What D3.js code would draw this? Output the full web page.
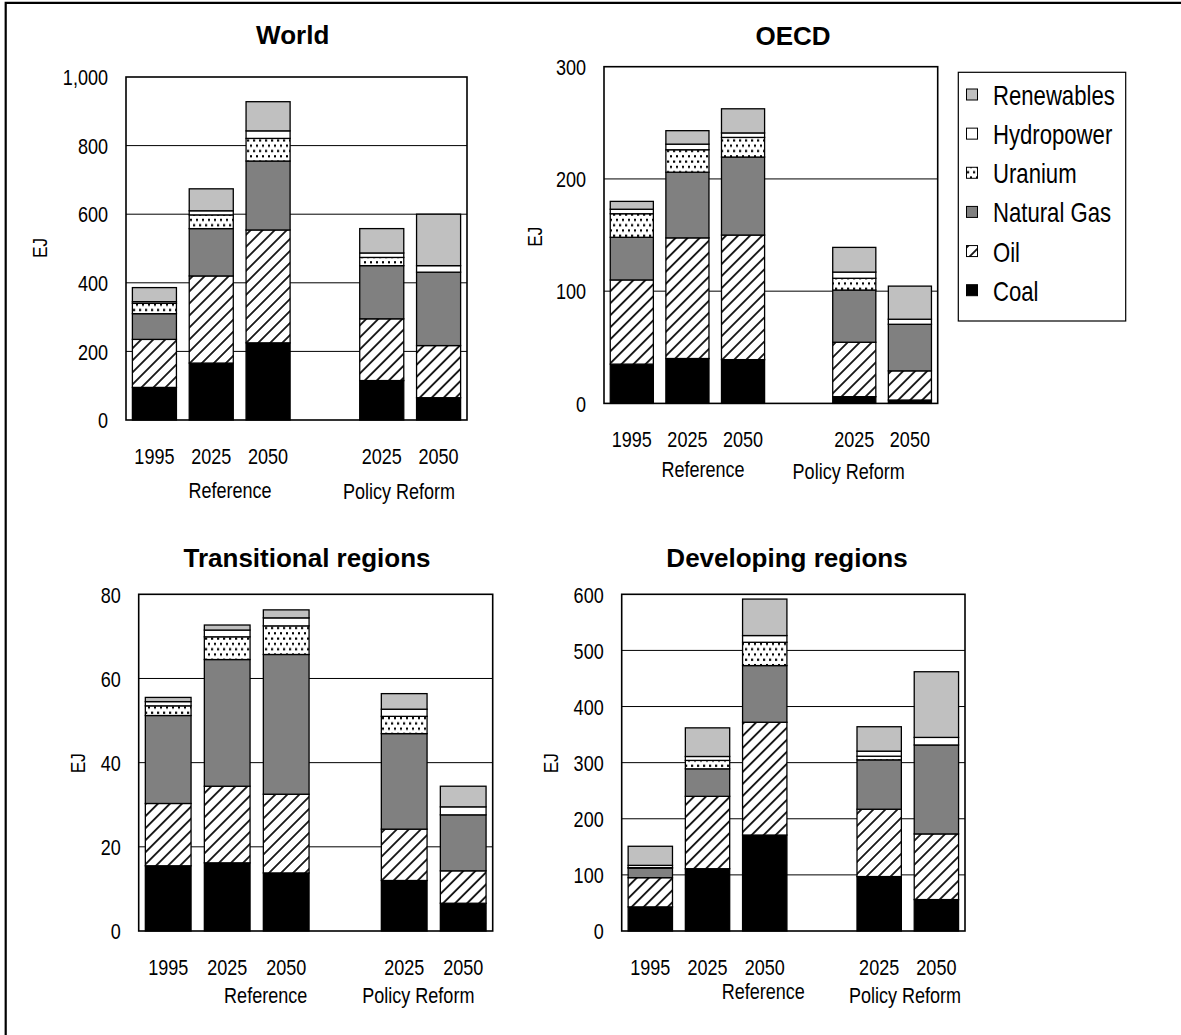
<!DOCTYPE html>
<html>
<head>
<meta charset="utf-8">
<script src="https://cdn.jsdelivr.net/npm/d3@7"></script>
<style>
  html, body { margin: 0; padding: 0; background: #fff; overflow: hidden; }
  svg { display: block; }
</style>
</head>
<body>
<script>
// ---------- DATA ----------
const fuels = ["Coal", "Oil", "Natural Gas", "Uranium", "Hydropower", "Renewables"];
const years = ["1995", "2025", "2050", "2025", "2050"];
const scenarios = ["Reference", "Reference", "Reference", "Policy Reform", "Policy Reform"];
const groupLabels = ["Reference", "Policy Reform"];

// rows follow `fuels` order; columns follow `years`
const worldValues = [
  [95, 166, 225, 115, 65],
  [140, 254, 329, 180, 152],
  [75, 138, 201, 155, 214],
  [30, 40, 66, 24, 0],
  [5, 12, 22, 13, 19],
  [41, 64, 85, 71, 150]
];
const oecdValues = [
  [35, 40, 39, 6, 3],
  [75, 107.5, 111, 48.5, 26],
  [38, 58.5, 69.5, 46.5, 41.5],
  [21, 20, 17.5, 10.5, 0],
  [4, 5, 4, 5.5, 4.5],
  [7, 12, 21.5, 22, 29.5]
];
const transValues = [
  [15.5, 16.2, 13.8, 12, 6.6],
  [14.8, 18.2, 18.7, 12.2, 7.7],
  [20.9, 30.1, 33.2, 22.7, 13.3],
  [2.3, 5.4, 6.8, 4.1, 0],
  [1.0, 1.6, 1.9, 1.7, 1.9],
  [1.0, 1.2, 1.9, 3.7, 4.9]
];
const devValues = [
  [43, 111, 171, 97, 56],
  [52, 129, 201, 120, 117],
  [17, 49, 101, 88, 158.5],
  [1, 15, 41.5, 6.5, 0],
  [4, 7, 12, 9, 13.5],
  [34, 51, 65, 43.5, 117]
];
const worldTicks = [0, 200, 400, 600, 800, 1000];
const oecdTicks = [0, 100, 200, 300];
const transTicks = [0, 20, 40, 60, 80];
const devTicks = [0, 100, 200, 300, 400, 500, 600];

// ---------- LAYOUT ----------
const W = 1181, H = 1035;
const NARROW = 0.82;
const svg = d3.select("body").append("svg").attr("width", W).attr("height", H);

const defs = svg.append("defs");
const hatch = defs.append("pattern").attr("id", "hatch")
  .attr("patternUnits", "userSpaceOnUse").attr("width", 8.5).attr("height", 8.5)
  .attr("patternTransform", "rotate(45)");
hatch.append("rect").attr("width", 8.5).attr("height", 8.5).attr("fill", "#fff");
hatch.append("line").attr("x1", 0).attr("y1", -1).attr("x2", 0).attr("y2", 9.5)
  .attr("stroke", "#000").attr("stroke-width", 1.7);
hatch.append("line").attr("x1", 8.5).attr("y1", -1).attr("x2", 8.5).attr("y2", 9.5)
  .attr("stroke", "#000").attr("stroke-width", 1.7);

const dots = defs.append("pattern").attr("id", "dots")
  .attr("patternUnits", "userSpaceOnUse").attr("width", 6).attr("height", 10.6);
dots.append("rect").attr("width", 6).attr("height", 10.6).attr("fill", "#fff");
dots.append("rect").attr("x", 1).attr("y", 1.5).attr("width", 2.2).attr("height", 2.2).attr("fill", "#000");
dots.append("rect").attr("x", 4).attr("y", 6.8).attr("width", 2.2).attr("height", 2.2).attr("fill", "#000");

const fills = {
  "Coal": "#000000",
  "Oil": "url(#hatch)",
  "Natural Gas": "#808080",
  "Uranium": "url(#dots)",
  "Hydropower": "#ffffff",
  "Renewables": "#c0c0c0"
};

// outer border (only top + left are visible in the reference)
svg.append("path").attr("d", `M5.7,${H} V2.8 H${W}`)
  .attr("fill", "none").attr("stroke", "#000").attr("stroke-width", 2.2);

function ntext(g, x, y, str, anchor, size, rotate) {
  return g.append("text")
    .attr("transform", `translate(${x},${y})` + (rotate ? ` rotate(${rotate})` : "") + ` scale(${NARROW},1)`)
    .attr("text-anchor", anchor)
    .attr("font-family", "'Liberation Sans', Arial, sans-serif")
    .attr("font-size", size)
    .attr("fill", "#000")
    .text(str);
}

const panels = [
  { title: "World", values: worldValues, ticks: worldTicks, fmt: d3.format(","),
    box: { x: 126, y: 77, w: 341, h: 343 }, titlePos: [292.7, 44.3], ej: [46.5, 248],
    groupPos: [[104, 77.5], [273, 78.5]] },
  { title: "OECD", values: oecdValues, ticks: oecdTicks, fmt: d3.format(","),
    box: { x: 604, y: 66.7, w: 333.7, h: 336.7 }, titlePos: [793, 45], ej: [541.5, 236.7],
    groupPos: [[99, 74], [244.7, 75.7]] },
  { title: "Transitional regions", values: transValues, ticks: transTicks, fmt: d3.format(","),
    box: { x: 138.7, y: 594.3, w: 354, h: 336.7 }, titlePos: [307, 567.3], ej: [85, 763.3],
    groupPos: [[127, 71.5], [279.6, 72]] },
  { title: "Developing regions", values: devValues, ticks: devTicks, fmt: d3.format(","),
    box: { x: 621.7, y: 594.3, w: 343.3, h: 336.7 }, titlePos: [787, 567.3], ej: [558.3, 763.3],
    groupPos: [[141.6, 68], [283.3, 72]] }
];

const slotKeys = ["c0", "c1", "c2", "gap", "c3", "c4"];
const colKey = i => "c" + i;

panels.forEach(p => {
  const g = svg.append("g");
  const b = p.box;
  const x = d3.scaleBand().domain(slotKeys).range([b.x, b.x + b.w])
    .paddingInner(0.225).paddingOuter(0.1125);
  const y = d3.scaleLinear().domain([0, d3.max(p.ticks)]).range([b.y + b.h, b.y]);

  // gridlines
  g.append("g").selectAll("line").data(p.ticks.slice(1, -1)).join("line")
    .attr("x1", b.x).attr("x2", b.x + b.w)
    .attr("y1", d => y(d)).attr("y2", d => y(d))
    .attr("stroke", "#000").attr("stroke-width", 1);

  // stacked bars
  const rows = years.map((yr, i) => {
    const r = { key: colKey(i) };
    fuels.forEach((f, k) => { r[f] = p.values[k][i]; });
    return r;
  });
  const series = d3.stack().keys(fuels)(rows);
  g.append("g").selectAll("g").data(series).join("g")
    .attr("fill", s => fills[s.key])
    .selectAll("rect").data(s => s.filter(d => d[1] - d[0] > 0)).join("rect")
    .attr("x", d => x(d.data.key))
    .attr("width", x.bandwidth())
    .attr("y", d => y(d[1]))
    .attr("height", d => y(d[0]) - y(d[1]))
    .attr("stroke", "#000").attr("stroke-width", 1.3);

  // frame
  g.append("rect").attr("x", b.x).attr("y", b.y).attr("width", b.w).attr("height", b.h)
    .attr("fill", "none").attr("stroke", "#000").attr("stroke-width", 1.6);

  // y axis labels
  const yAxis = d3.axisLeft(y).tickValues(p.ticks).tickFormat(p.fmt).tickSize(0).tickPadding(0);
  const ya = g.append("g").attr("transform", `translate(${b.x - 18},0)`).call(yAxis);
  ya.select(".domain").remove();
  ya.selectAll("text")
    .attr("font-family", "'Liberation Sans', Arial, sans-serif")
    .attr("font-size", 22).attr("fill", "#000")
    .attr("x", null).attr("dy", "0.35em")
    .attr("transform", `scale(${NARROW},1)`)
    .attr("text-anchor", "end");

  // year labels
  years.forEach((yr, i) => {
    ntext(g, x(colKey(i)) + x.bandwidth() / 2, b.y + b.h + 43.5, yr, "middle", 22);
  });
  // group labels
  groupLabels.forEach((lbl, j) => {
    ntext(g, b.x + p.groupPos[j][0], b.y + b.h + p.groupPos[j][1], lbl, "middle", 22);
  });

  // EJ
  ntext(g, p.ej[0], p.ej[1], "EJ", "middle", 21, -90);

  // title
  g.append("text").attr("x", p.titlePos[0]).attr("y", p.titlePos[1])
    .attr("text-anchor", "middle")
    .attr("font-family", "'Liberation Sans', Arial, sans-serif")
    .attr("font-weight", "bold").attr("font-size", 26).attr("fill", "#000")
    .text(p.title);
});

// legend
const lg = svg.append("g");
lg.append("rect").attr("x", 958.3).attr("y", 72.3).attr("width", 167.4).attr("height", 248.7)
  .attr("fill", "#fff").attr("stroke", "#000").attr("stroke-width", 1.2);
const legendOrder = fuels.slice().reverse();
const ly = d3.scalePoint().domain(legendOrder).range([105, 300.7]);
legendOrder.forEach(f => {
  lg.append("rect").attr("x", 966.5).attr("y", ly(f) - 16).attr("width", 11).attr("height", 11)
    .attr("fill", fills[f]).attr("stroke", "#000").attr("stroke-width", 1);
  ntext(lg, 993, ly(f), f, "start", 27);
});
</script>
</body>
</html>
